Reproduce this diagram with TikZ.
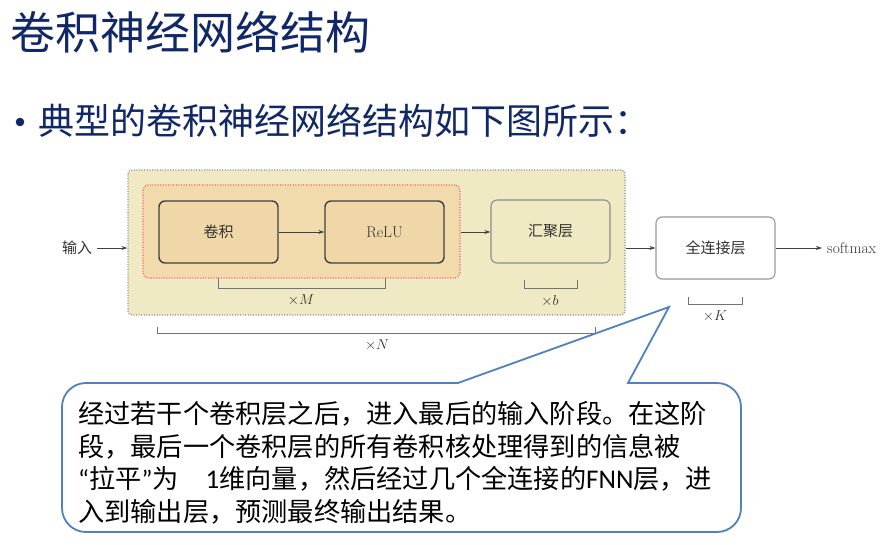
\documentclass[tikz,border=0pt]{standalone}
\usepackage{fontspec}
\newfontfamily\cjk{Noto Sans CJK SC}
\newfontfamily\carl{Carlito}
\usetikzlibrary{arrows.meta}
\definecolor{navy}{RGB}{16,40,104}
\definecolor{outerfill}{RGB}{239,234,196}
\definecolor{innerfill}{RGB}{241,218,172}
\definecolor{boxfill}{RGB}{239,215,168}
\definecolor{callblue}{RGB}{79,129,189}
\definecolor{dtext}{RGB}{50,50,50}
\begin{document}
\begin{tikzpicture}[x=1pt,y=-1pt,
  blk/.style={draw=black!75, line width=1.4pt, rounded corners=6pt, fill=boxfill,
    minimum width=119pt, minimum height=62pt, inner sep=0pt, text=dtext},
  cjkf/.style={font=\cjk\fontsize{15}{18}\selectfont},
  lmf/.style={font=\fontsize{15.5}{18}\selectfont},
  arr/.style={-{Stealth[length=6pt,width=4pt]}, line width=0.8pt, draw=black!75},
  brk/.style={draw=black!55, line width=0.9pt},
  lbl/.style={text=dtext, font=\fontsize{15}{17}\selectfont, inner sep=0pt}]
\fill[white] (0,0) rectangle (890,545);
\useasboundingbox (0,0) rectangle (890,545);

% title and bullet
\node[anchor=west, text=navy, font=\cjk\fontsize{45}{54}\selectfont, inner sep=0pt] (title) at (10,32) {卷积神经网络结构};
\fill[navy] (20,122) circle (4.3);
\node[anchor=west, text=navy, font=\cjk\fontsize{36}{43}\selectfont, inner sep=0pt] (bul) at (38,121) {典型的卷积神经网络结构如下图所示：};

% containers
\node[draw=black!45, dash pattern=on 1pt off 1.6pt, line width=1.2pt, fill=outerfill, rounded corners=4pt,
  minimum width=497pt, minimum height=145pt, inner sep=0pt] (outer) at (376.5,242.5) {};
\node[draw=red!65, dash pattern=on 1pt off 1.6pt, line width=1.2pt, fill=innerfill, rounded corners=5pt,
  minimum width=317pt, minimum height=93pt, inner sep=0pt] (inner) at (301.5,231.5) {};

% boxes
\node[blk, cjkf] (conv) at (218.5,232) {卷积};
\node[blk, lmf] (relu) at (384.5,232) {ReLU};
\node[blk, cjkf, draw=black!45, line width=1.1pt, fill=outerfill, minimum height=63pt] (pool) at (550.5,231.5) {汇聚层};
\node[blk, cjkf, draw=black!40, line width=1.1pt, fill=white] (fc) at (715.5,248) {全连接层};

\node[text=dtext, font=\cjk\fontsize{15}{18}\selectfont, inner sep=0pt] (in) at (77,248) {输入};
\node[text=dtext, font=\fontsize{15.5}{18}\selectfont, inner sep=0pt, anchor=west] (sm) at (827,248) {softmax};

% arrows
\draw[arr] (in.east) ++(5,0) coordinate (inS) -- (inS -| outer.west);
\draw[arr] (conv) -- (relu);
\draw[arr] (inner.east |- relu) -- (pool.west |- relu);
\draw[arr] (outer.east |- fc) -- (fc);
\draw[arr, shorten >=5pt] (fc) -- (sm);

% brackets
\draw[brk] (218,278) -- (218,288) -- (385,288) -- (385,278);
\node[lbl] (xM) at (301,300) {$\times M$};
\draw[brk] (524,280) -- (524,288) -- (577,288) -- (577,280);
\node[lbl] (xb) at (550,301) {$\times b$};
\draw[brk] (157,327) -- (157,333) -- (595,333) -- (595,327);
\node[lbl] (xN) at (377,345) {$\times N$};
\draw[brk] (688,297) -- (688,304) -- (742,304) -- (742,297);
\node[lbl] (xK) at (715,316) {$\times K$};

% callout
\draw[callblue, line width=1.8pt, fill=white, line join=miter]
  (458,383) -- (669,307) -- (628,383) -- (717,383)
  arc[start angle=270, end angle=360, radius=24] -- (741,508)
  arc[start angle=0, end angle=90, radius=24] -- (86,532)
  arc[start angle=90, end angle=180, radius=24] -- (62,407)
  arc[start angle=180, end angle=270, radius=24] -- cycle;
\node[anchor=west, align=left, font=\cjk\fontsize{26.2}{32.5}\selectfont, inner sep=0pt] (ctext) at (78,463)
  {经过若干个卷积层之后，进入最后的输入阶段。在这阶\\
   段，最后一个卷积层的所有卷积核处理得到的信息被\\
   {\carl “}拉平{\carl ”}为\hspace{27pt}{\carl\fontsize{27}{32.5}\selectfont 1}维向量，然后经过几个全连接的{\carl\fontsize{27}{32.5}\selectfont FNN}层，进\\
   入到输出层，预测最终输出结果。};
\end{tikzpicture}
\end{document}
